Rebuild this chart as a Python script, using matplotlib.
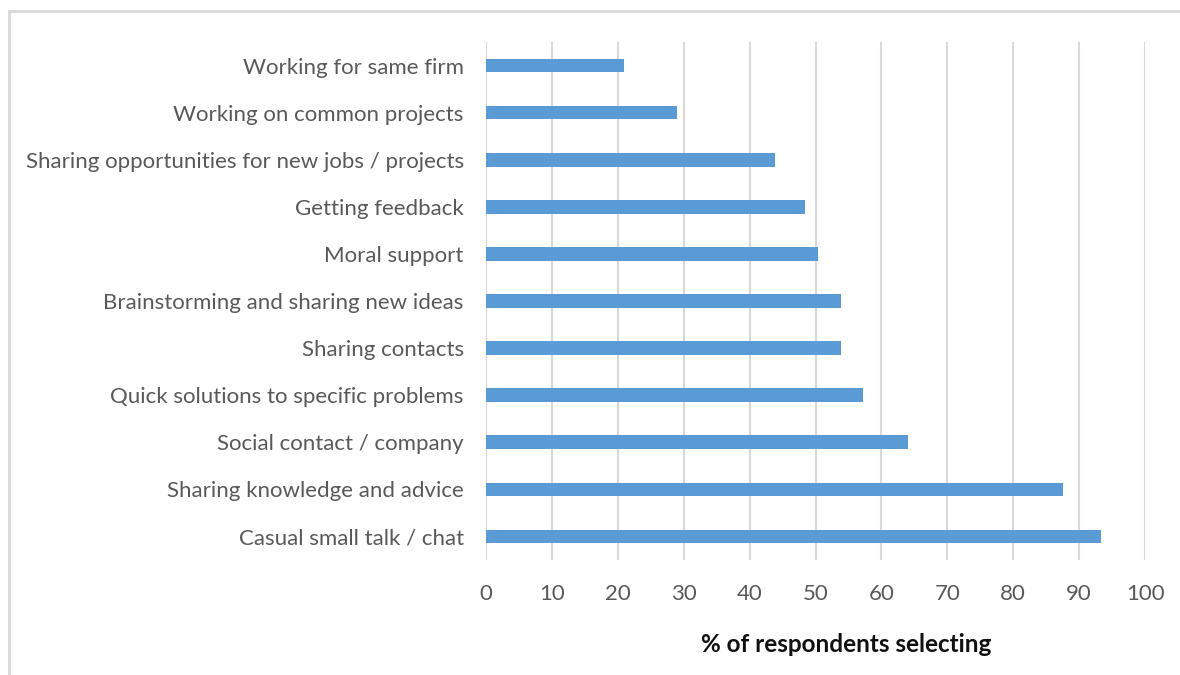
import matplotlib
matplotlib.use('Agg')
import matplotlib.pyplot as plt
from matplotlib.lines import Line2D

categories = ['Casual small talk / chat', 'Sharing knowledge and advice',
              'Social contact / company', 'Quick solutions to specific problems',
              'Sharing contacts', 'Brainstorming and sharing new ideas',
              'Moral support', 'Getting feedback',
              'Sharing opportunities for new jobs / projects',
              'Working on common projects', 'Working for same firm']
values = [93.3, 87.5, 64.0, 57.2, 53.9, 53.9, 50.4, 48.4, 43.9, 29.0, 20.9]
xticks = list(range(0, 101, 10))

plt.rcParams['font.family'] = ['Lato', 'DejaVu Sans']

fig = plt.figure(figsize=(11.8, 6.75), dpi=100)
ax = fig.add_axes([0.4119, 0.1704, 0.5585, 0.7674])

ax.barh(range(len(categories)), values, height=0.29, color='#5b9bd5', zorder=3)
ax.set_xlim(0, 100)
ax.set_ylim(-0.5, len(categories) - 0.5)
ax.set_xticks(xticks)
ax.set_yticks(range(len(categories)))
ax.set_yticklabels(categories)
ax.grid(axis='x', color='#d9d9d9', linewidth=1.5, zorder=0)
for s in ax.spines.values():
    s.set_visible(False)
ax.tick_params(axis='both', length=0, labelsize=16, labelcolor='#595959')
ax.tick_params(axis='x', pad=17)
ax.tick_params(axis='y', pad=16)

# x label sits right of centre, like the original
ax.set_xlabel('% of respondents selecting', fontsize=17.5, fontweight='bold',
              color='#111111')
ax.xaxis.set_label_coords(0.546, -(645 - 560) / 518.0)
ax.xaxis.label.set_va('center')

# outer chart frame (top and left edges only are visible)
fig.add_artist(Line2D([9 / 1180, 1], [1 - 11 / 675, 1 - 11 / 675],
                      transform=fig.transFigure, color='#d9d9d9', lw=2))
fig.add_artist(Line2D([9 / 1180, 9 / 1180], [0, 1 - 11 / 675],
                      transform=fig.transFigure, color='#d9d9d9', lw=2))

fig.savefig('out.png', dpi=100)
